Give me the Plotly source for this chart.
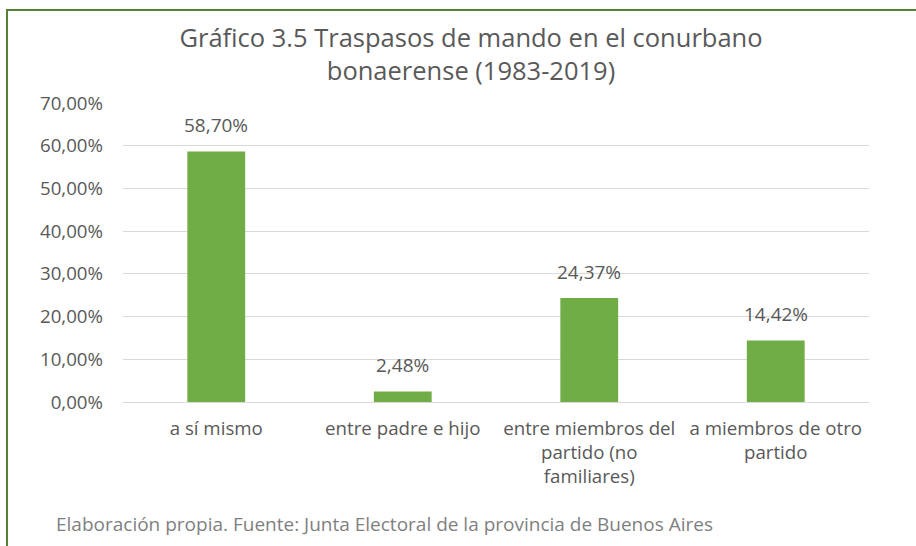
import plotly.graph_objects as go

categories = ["a sí mismo", "entre padre e hijo", "entre miembros del partido (no familiares)", "a miembros de otro partido"]
tick_labels = ["a sí mismo", "entre padre e hijo", "entre miembros del<br>partido (no<br>familiares)", "a miembros de otro<br>partido"]
values = [0.5870, 0.0248, 0.2437, 0.1442]
y_ticks = [0, 0.1, 0.2, 0.3, 0.4, 0.5, 0.6, 0.7]

W, H = 916, 546
L, R, T, B = 123, 47, 103, 144
pw, ph = W - L - R, H - T - B

def px_x(x):
    return (x - L) / pw

def px_y(y):
    return (H - B - y) / ph

FONT = "'Open Sans', sans-serif"
GRAY = "#595959"
FS = 18.7

fig = go.Figure(go.Bar(
    x=categories, y=values,
    marker=dict(color="#70AD47", line=dict(width=0)),
    width=0.31,
))

fig.update_layout(
    width=W, height=H,
    margin=dict(l=L, r=R, t=T, b=B),
    paper_bgcolor="white", plot_bgcolor="white",
    separators=",.",
    showlegend=False,
    font=dict(family=FONT, color=GRAY),
    title=dict(
        text="Gráfico 3.5 Traspasos de mando en el conurbano<br>bonaerense (1983-2019)",
        x=471 / W, xanchor="center", y=1 - 47 / H, yanchor="middle",
        font=dict(size=25.5, color=GRAY, family=FONT),
    ),
    xaxis=dict(
        tickmode="array", tickvals=categories, ticktext=tick_labels,
        tickfont=dict(size=FS, color=GRAY, family=FONT),
        showgrid=False, showline=False, ticks="", ticklen=0,
        ticklabelstandoff=13,
    ),
    yaxis=dict(
        range=[0, 0.7004], tickvals=y_ticks, tickformat=".2%",
        tickfont=dict(size=FS, color=GRAY, family=FONT),
        showgrid=True, gridcolor="#D9D9D9", gridwidth=1,
        zeroline=True, zerolinecolor="#D9D9D9", zerolinewidth=1,
        showline=False, ticks="", ticklabelstandoff=19,
    ),
    shapes=[dict(
        type="rect", xref="paper", yref="paper",
        x0=px_x(7), x1=px_x(930), y0=px_y(560), y1=px_y(10),
        line=dict(color="#548235", width=2), fillcolor="rgba(0,0,0,0)", layer="below",
    )],
)

for c, v in zip(categories, values):
    fig.add_annotation(
        x=c, y=v, xref="x", yref="y", text=f"{v*100:.2f}%".replace(".", ","),
        showarrow=False, yanchor="bottom", yshift=11,
        font=dict(size=19, color=GRAY, family=FONT),
    )

fig.add_annotation(
    text="Elaboración propia. Fuente: Junta Electoral de la provincia de Buenos Aires",
    xref="paper", yref="paper", x=px_x(54), y=px_y(524),
    xanchor="left", yanchor="middle", showarrow=False,
    font=dict(size=19, color="#7F7F7F", family=FONT),
)

fig.write_html("out.html", config={"displayModeBar": False},
               post_script="document.body.style.margin='0';")
